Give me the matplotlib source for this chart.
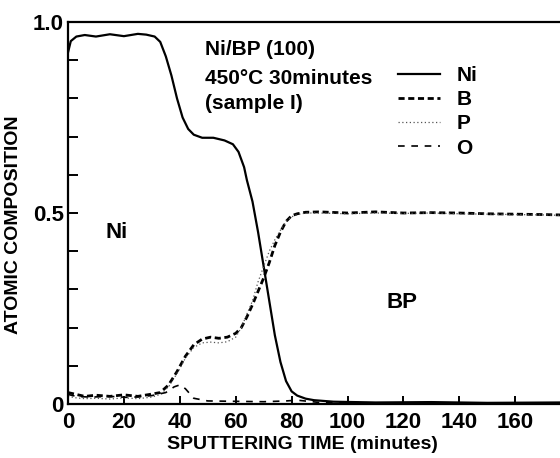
import matplotlib
matplotlib.use("Agg")
import matplotlib.pyplot as plt
from matplotlib.ticker import MultipleLocator, FixedLocator

# Ni/BP(100) depth profile, 450 C 30 min anneal (sample I)

plt.rcParams["font.family"] = ["Liberation Sans", "DejaVu Sans"]
plt.rcParams["font.weight"] = "bold"
plt.rcParams["axes.labelweight"] = "bold"

time_ni = [0, 1, 3, 6, 10, 15, 20, 25, 28, 31, 33, 35, 37, 39, 41, 43, 45, 48, 52,
           56, 59, 61, 63, 64, 66, 68, 70, 72, 74, 76, 78, 80, 82, 85, 88, 95, 110,
           130, 150, 176]
ni = [0.92, 0.95, 0.962, 0.966, 0.962, 0.968, 0.963, 0.969, 0.967, 0.962, 0.948,
      0.91, 0.86, 0.80, 0.75, 0.72, 0.705, 0.697, 0.697, 0.69, 0.68, 0.66, 0.62,
      0.586, 0.53, 0.45, 0.36, 0.27, 0.18, 0.11, 0.06, 0.033, 0.022, 0.014, 0.01,
      0.006, 0.004, 0.005, 0.003, 0.004]

time_b = [0, 3, 6, 10, 15, 20, 25, 30, 33, 36, 39, 42, 45, 48, 51, 54, 57, 60, 62,
          64, 66, 68, 70, 72, 74, 76, 78, 80, 82, 85, 90, 100, 110, 120, 130, 140,
          150, 160, 170, 176]
b = [0.03, 0.025, 0.02, 0.023, 0.02, 0.024, 0.02, 0.026, 0.03, 0.05, 0.085, 0.125,
     0.155, 0.17, 0.175, 0.172, 0.175, 0.185, 0.2, 0.228, 0.26, 0.295, 0.33, 0.37,
     0.415, 0.45, 0.478, 0.493, 0.498, 0.502, 0.503, 0.5, 0.503, 0.5, 0.501, 0.5,
     0.498, 0.497, 0.496, 0.495]

time_p = [0, 3, 6, 10, 15, 20, 25, 30, 33, 36, 39, 42, 45, 48, 51, 54, 57, 60, 62,
          64, 66, 68, 70, 72, 74, 76, 78, 80, 82, 85, 90, 100, 110, 120, 130, 140,
          150, 160, 170, 176]
p = [0.02, 0.016, 0.014, 0.015, 0.013, 0.016, 0.014, 0.018, 0.025, 0.045, 0.08,
     0.12, 0.148, 0.16, 0.162, 0.16, 0.163, 0.175, 0.2, 0.235, 0.27, 0.32, 0.36,
     0.4, 0.43, 0.455, 0.478, 0.49, 0.496, 0.5, 0.5, 0.498, 0.5, 0.499, 0.5, 0.498,
     0.497, 0.496, 0.495, 0.494]

time_o = [0, 3, 8, 15, 22, 30, 35, 38, 40, 42, 45, 50, 60, 70, 78, 82, 90, 110,
          140, 176]
o = [0.025, 0.02, 0.018, 0.02, 0.017, 0.022, 0.03, 0.045, 0.05, 0.04, 0.015,
     0.008, 0.007, 0.006, 0.008, 0.01, 0.004, 0.003, 0.003, 0.003]

fig = plt.figure(figsize=(5.6, 4.58), dpi=100)
ax = fig.add_axes([0.1214, 0.1179, 0.8786, 0.834])

ax.plot(time_ni, ni, color="black", lw=1.6, ls="-", label="Ni")
ax.plot(time_b, b, color="black", lw=2.0, ls=(0, (2.2, 1.3)), label="B")
ax.plot(time_p, p, color="#555555", lw=0.9, ls=(0, (1, 2)), label="P")
ax.plot(time_o, o, color="black", lw=1.2, ls=(0, (4, 4)), label="O")

ax.set_xlim(0, 176)
ax.set_ylim(0, 1.0)

for side in ["left", "top", "bottom"]:
    ax.spines[side].set_linewidth(1.6)
ax.spines["right"].set_visible(False)

ax.xaxis.set_major_locator(FixedLocator([0, 20, 40, 60, 80, 100, 120, 140, 160]))
ax.set_xticklabels(["0", "20", "40", "60", "80", "100", "120", "140", "160"])
ax.yaxis.set_major_locator(FixedLocator([0, 0.5, 1.0]))
ax.set_yticklabels(["0", "0.5", "1.0"])
ax.yaxis.set_minor_locator(MultipleLocator(0.1))
ax.tick_params(axis="both", which="both", direction="in", width=1.4, labelsize=16,
               top=False, right=False)
ax.tick_params(axis="y", which="both", length=7, pad=3)
ax.tick_params(axis="x", which="major", length=6, pad=6)

ax.set_xlabel("SPUTTERING TIME (minutes)", fontsize=14)
ax.xaxis.set_label_coords(0.476, -0.085)
ax.set_ylabel("ATOMIC COMPOSITION", fontsize=14)
ax.yaxis.set_label_coords(-0.094, 0.47)

ax.text(0.278, 0.927, "Ni/BP (100)", transform=ax.transAxes, fontsize=15, va="center")
ax.text(0.278, 0.853, "450°C 30minutes", transform=ax.transAxes, fontsize=15, va="center")
ax.text(0.278, 0.788, "(sample I)", transform=ax.transAxes, fontsize=15, va="center")

ax.text(17.5, 0.448, "Ni", fontsize=16, ha="center", va="center")
ax.text(119.6, 0.267, "BP", fontsize=16, ha="center", va="center")

ax.legend(loc="upper left", bbox_to_anchor=(0.671, 0.885), frameon=False,
          fontsize=15, handlelength=2.0, handletextpad=0.8, labelspacing=0.25,
          borderpad=0, borderaxespad=0)

fig.savefig("out.png", dpi=100)
